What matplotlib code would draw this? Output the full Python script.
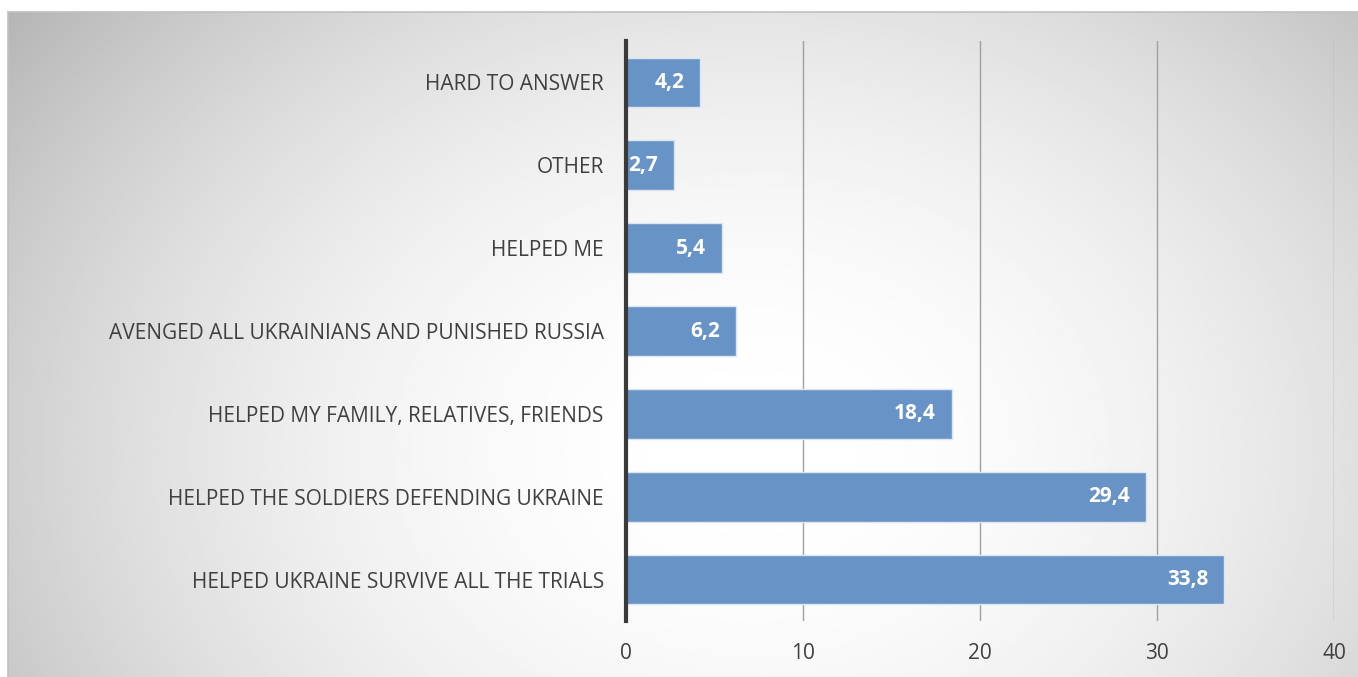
import numpy as np
import matplotlib
matplotlib.use('Agg')
import matplotlib.pyplot as plt

# Data
categories = ['HELPED UKRAINE SURVIVE ALL THE TRIALS',
              'HELPED THE SOLDIERS DEFENDING UKRAINE',
              'HELPED MY FAMILY, RELATIVES, FRIENDS',
              'AVENGED ALL UKRAINIANS AND PUNISHED RUSSIA',
              'HELPED ME',
              'OTHER',
              'HARD TO ANSWER']
values = [33.8, 29.4, 18.4, 6.2, 5.4, 2.7, 4.2]
value_labels = ['33,8', '29,4', '18,4', '6,2', '5,4', '2,7', '4,2']
xticks = [0, 10, 20, 30, 40]

plt.rcParams['font.family'] = ['Open Sans', 'DejaVu Sans']

fig = plt.figure(figsize=(13.58, 6.77), dpi=100)
fig.patch.set_facecolor('white')

# Radial gradient background (chart area frame)
bg = fig.add_axes([8 / 1358, 0, 1 - 8 / 1358, 1 - 12 / 677])
h, w = 300, 600
yy, xx = np.mgrid[0:h, 0:w]
cx, cy = 0.55 * w, 0.66 * h
r = np.sqrt(((xx - cx) / (0.6 * w)) ** 2 + ((yy - cy) / (0.95 * h)) ** 2)
r = np.clip(r, 0, 1.2)
shade = 1.0 - 0.22 * r ** 2
bg.imshow(shade, cmap='gray', vmin=0, vmax=1, aspect='auto', extent=[0, 1, 0, 1],
          interpolation='bilinear', origin='upper')
bg.set_xticks([])
bg.set_yticks([])
for s in bg.spines.values():
    s.set_color('#c0c0c0')
    s.set_linewidth(1.2)
bg.spines['right'].set_visible(False)
bg.spines['bottom'].set_visible(False)

ax = fig.add_axes([626 / 1358, 1 - 621 / 677, (1334 - 626) / 1358, (621 - 41) / 677])
ax.patch.set_alpha(0)

y = np.arange(len(categories))
bars = ax.barh(y, values, height=0.6, color='#6893c7', edgecolor='#dce6f2', linewidth=1, zorder=3)

for i, (v, lab) in enumerate(zip(values, value_labels)):
    ax.annotate(lab, (v, i), xytext=(-11.5, 0), textcoords='offset points',
                ha='right', va='center', color='white',
                fontsize=15, fontweight='bold', zorder=4)

ax.set_xlim(0, 40)
ax.set_ylim(-0.5, len(categories) - 0.5)
ax.set_xticks(xticks)
ax.set_xticklabels([str(t) for t in xticks])
ax.set_yticks(y)
ax.set_yticklabels(categories)
ax.grid(axis='x', color='#a0a0a0', linewidth=1, zorder=0)
ax.tick_params(axis='both', length=0, labelsize=15, colors='#404040')
ax.tick_params(axis='x', pad=16)
ax.tick_params(axis='y', pad=16)
for s in ['top', 'right', 'bottom']:
    ax.spines[s].set_visible(False)
ax.spines['left'].set_color('#3a3a3a')
ax.spines['left'].set_linewidth(3)
ax.spines['left'].set_zorder(5)

fig.savefig('out.png', dpi=100)
